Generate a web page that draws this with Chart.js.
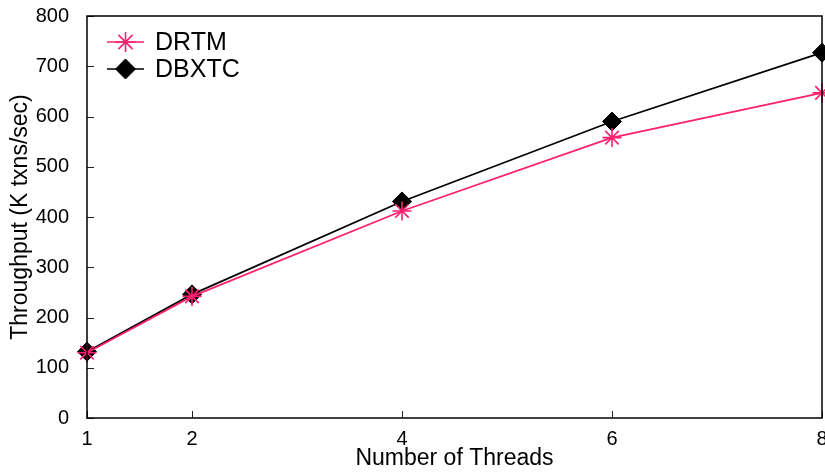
<!DOCTYPE html>
<html><head><meta charset="utf-8">
<script src="https://cdn.jsdelivr.net/npm/chart.js@4"></script>
<style>html,body{margin:0;padding:0;background:#fff}#wrap{width:825px;height:472px}</style>
</head><body><div id="wrap"><canvas id="c" width="825" height="472"></canvas></div>
<script>
const threads = [1, 2, 4, 6, 8];
const drtm = [130, 242, 412, 558, 647];
const dbxtc = [132, 246, 431, 590, 727];
const xTicks = [1, 2, 4, 6, 8];
const yTicks = [0, 100, 200, 300, 400, 500, 600, 700, 800];
const seriesNames = ['DRTM', 'DBXTC'];

const FONT = '"Liberation Sans", Arial, Helvetica, sans-serif';
const PINK = '#ff1f70';

const frame = {
  id: 'frame',
  afterDatasetsDraw(chart) {
    const {ctx, chartArea: a, scales: {x, y}} = chart;
    ctx.save();
    ctx.strokeStyle = '#222';
    ctx.lineWidth = 1;
    ctx.beginPath();
    for (const t of y.ticks) {
      const py = Math.round(y.getPixelForValue(t.value)) + 0.5;
      ctx.moveTo(a.left, py); ctx.lineTo(a.left + 7, py);
    }
    for (const t of x.ticks) {
      const px = Math.round(x.getPixelForValue(t.value)) + 0.5;
      ctx.moveTo(px, a.bottom); ctx.lineTo(px, a.bottom - 7);
    }
    ctx.stroke();
    ctx.strokeStyle = '#000';
    ctx.lineWidth = 1.5;
    ctx.strokeRect(a.left, a.top, a.right - a.left, a.bottom - a.top);
    ctx.restore();
  },
  afterDraw(chart) {
    const {ctx, chartArea: a} = chart;
    ctx.save();
    chart.data.datasets.forEach((ds, i) => {
      const yy = a.top + 26 + i * 27;
      const x0 = a.left + 20, x1 = a.left + 57;
      ctx.strokeStyle = ds.borderColor;
      ctx.lineWidth = ds.borderWidth;
      ctx.beginPath(); ctx.moveTo(x0, yy); ctx.lineTo(x1, yy); ctx.stroke();
      ctx.fillStyle = ds.pointBackgroundColor;
      ctx.strokeStyle = ds.pointBorderColor;
      ctx.lineWidth = ds.pointBorderWidth;
      Chart.helpers.drawPoint(ctx, {pointStyle: ds.pointStyle, radius: ds.pointRadius + 0.5, rotation: 0, borderWidth: ds.pointBorderWidth}, (x0 + x1) / 2, yy);
      ctx.fillStyle = '#000';
      ctx.font = '25px ' + FONT;
      ctx.textBaseline = 'middle';
      ctx.textAlign = 'left';
      ctx.fillText(ds.label, a.left + 68, yy + 1);
    });
    ctx.restore();
  }
};

new Chart(document.getElementById('c'), {
  type: 'line',
  data: {
    datasets: [
      {
        label: seriesNames[0],
        data: threads.map((t, i) => ({x: t, y: drtm[i]})),
        borderColor: PINK, borderWidth: 1.7,
        pointStyle: 'star', pointRadius: 9.5, pointBorderWidth: 1.6,
        pointBorderColor: PINK, pointBackgroundColor: PINK,
        clip: false, tension: 0
      },
      {
        label: seriesNames[1],
        data: threads.map((t, i) => ({x: t, y: dbxtc[i]})),
        borderColor: '#000', borderWidth: 1.7,
        pointStyle: 'rectRot', pointRadius: 9.5, pointBorderWidth: 1,
        pointBorderColor: '#000', pointBackgroundColor: '#000',
        clip: false, tension: 0
      }
    ]
  },
  options: {
    responsive: false,
    animation: false,
    events: [],
    layout: {autoPadding: false, padding: {top: 16, right: 3, left: 0, bottom: 0}},
    plugins: {legend: {display: false}, tooltip: {enabled: false}},
    scales: {
      x: {
        type: 'linear', min: 1, max: 8,
        grid: {display: false}, border: {display: false},
        afterBuildTicks: s => { s.ticks = xTicks.map(v => ({value: v})); },
        afterFit: s => { s.height = 54; s.paddingLeft = 0; s.paddingRight = 0; },
        ticks: {autoSkip: false, maxRotation: 0, padding: 1, color: '#000', font: {family: FONT, size: 20}},
        title: {display: true, text: 'Number of Threads', color: '#000', padding: {top: 0, bottom: 0}, font: {family: FONT, size: 23}}
      },
      y: {
        type: 'linear', min: 0, max: 800,
        grid: {display: false}, border: {display: false},
        afterBuildTicks: s => { s.ticks = yTicks.map(v => ({value: v})); },
        afterFit: s => { s.width = 87; s.paddingTop = 0; s.paddingBottom = 0; },
        ticks: {padding: 10, color: '#000', font: {family: FONT, size: 20}},
        title: {display: true, text: 'Throughput (K txns/sec)', color: '#000', padding: {top: 7, bottom: 0}, font: {family: FONT, size: 23}}
      }
    }
  },
  plugins: [frame]
});
</script>
</body></html>
